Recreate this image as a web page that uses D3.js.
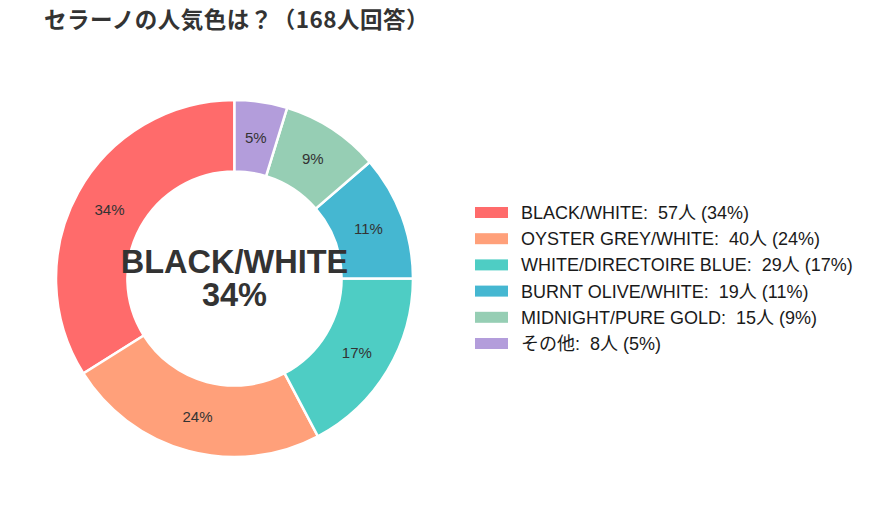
<!DOCTYPE html>
<html><head><meta charset="utf-8">
<script src="https://cdn.jsdelivr.net/npm/d3@7"></script>
<style>body{margin:0;background:#fff}</style>
</head><body><svg id="c" width="869" height="514"></svg>
<script>
const categories = ["BLACK/WHITE","OYSTER GREY/WHITE","WHITE/DIRECTOIRE BLUE","BURNT OLIVE/WHITE","MIDNIGHT/PURE GOLD","その他"];
const counts = [57,40,29,19,15,8];
const colors = ["#FF6B6B","#FFA07A","#4ECDC4","#45B7D1","#96CEB4","#B39DDB"];
const title = "セラーノの人気色は？（168人回答）";

const total = d3.sum(counts);
const pct = v => Math.round(v/total*100) + "%";
const svg = d3.select("#c");
const cx = 234.5, cy = 278.5, R = 178.5, r = R*0.6;
const cjk = "'Noto Sans CJK JP','Noto Sans',sans-serif";
const latin = "'Liberation Sans','Noto Sans CJK JP',Arial,sans-serif";

svg.append("text").attr("x",44).attr("y",28).attr("font-family",cjk).attr("font-weight","bold")
  .attr("font-size",22.5).attr("letter-spacing",0.5).attr("fill","#333").text(title);

const data = categories.map((c,i)=>({name:c,value:counts[i],color:colors[i]}));
const pie = d3.pie().value(d=>d.value).sort(null).startAngle(0).endAngle(-2*Math.PI);
const arcs = pie(data);
const arc = d3.arc().innerRadius(r).outerRadius(R);
const labelArc = d3.arc().innerRadius(R*0.8).outerRadius(R*0.8);
const g = svg.append("g").attr("transform",`translate(${cx},${cy})`);
g.selectAll("path").data(arcs).join("path").attr("d",arc).attr("fill",d=>d.data.color)
  .attr("stroke","#fff").attr("stroke-width",2.5);
g.selectAll("text.pl").data(arcs).join("text").attr("class","pl")
  .attr("transform",d=>`translate(${labelArc.centroid(d)})`)
  .attr("text-anchor","middle").attr("dy","0.36em").attr("font-family",latin)
  .attr("font-size",15).attr("fill","#333").text(d=>pct(d.data.value));

g.append("text").attr("text-anchor","middle").attr("y",-6).attr("font-family",latin)
  .attr("font-weight","bold").attr("font-size",32.5).attr("fill","#333").text(categories[0]);
g.append("text").attr("text-anchor","middle").attr("y",27).attr("font-family",latin)
  .attr("font-weight","bold").attr("font-size",32.5).attr("fill","#333").text(pct(counts[0]));

const lg = svg.append("g").attr("transform","translate(475,212.5)");
const rows = lg.selectAll("g").data(data).join("g").attr("transform",(d,i)=>`translate(0,${i*26.2})`);
rows.append("rect").attr("x",0).attr("y",-5.5).attr("width",33).attr("height",11).attr("fill",d=>d.color);
rows.append("text").attr("x",46).attr("dy","0.36em").attr("font-family",latin).attr("font-size",18)
  .attr("fill","#1a1a1a").style("white-space","pre").text(d=>`${d.name}:  ${d.value}人 (${pct(d.value)})`);
</script></body></html>
